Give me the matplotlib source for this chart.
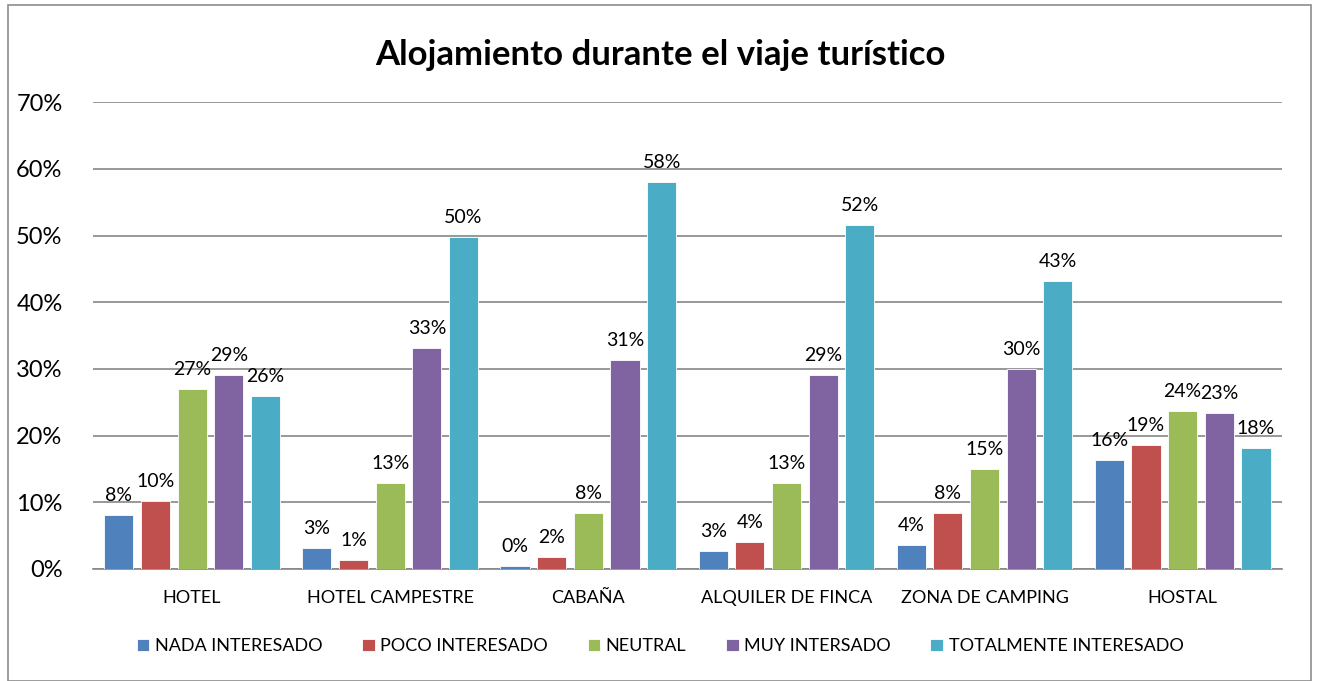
import numpy as np
import matplotlib.pyplot as plt
from matplotlib.patches import Rectangle
from matplotlib.ticker import PercentFormatter

plt.rcParams.update({
    "font.family": ["Lato", "DejaVu Sans"],
})

categories = ["HOTEL", "HOTEL CAMPESTRE", "CABAÑA", "ALQUILER DE FINCA", "ZONA DE CAMPING", "HOSTAL"]
series = ["NADA INTERESADO", "POCO INTERESADO", "NEUTRAL", "MUY INTERSADO", "TOTALMENTE INTERESADO"]

nada = [0.081, 0.031, 0.004, 0.027, 0.036, 0.163]
poco = [0.102, 0.013, 0.018, 0.040, 0.084, 0.186]
neutral = [0.270, 0.129, 0.084, 0.129, 0.150, 0.237]
muy = [0.291, 0.331, 0.313, 0.291, 0.300, 0.234]
totalmente = [0.259, 0.498, 0.580, 0.516, 0.432, 0.181]

colors = ['#4F81BD', '#C0504D', '#9BBB59', '#8064A2', '#4BACC6']

fig = plt.figure(figsize=(13.2, 6.81), dpi=100)
ax = fig.add_axes([0.0705, 0.1645, 0.9005, 0.6855])

# outer chart border
fig.patches.append(Rectangle((0.006, 0.0), 0.987, 0.992, transform=fig.transFigure,
                             fill=False, edgecolor='#8c8c8c', linewidth=1.2))

x = np.arange(len(categories))
pitch = 0.185
width = 0.147
values = [nada, poco, neutral, muy, totalmente]

for i, (vals, name) in enumerate(zip(values, series)):
    pos = x + (i - 2) * pitch
    bars = ax.bar(pos, vals, width, color=colors[i], label=name,
                  edgecolor='white', linewidth=0.6, zorder=3)
    for b, v in zip(bars, vals):
        ax.annotate(f"{v:.0%}", (b.get_x() + b.get_width() / 2, v),
                    xytext=(0, 8), textcoords='offset points',
                    ha='center', va='bottom', fontsize=14)

ax.set_xlim(-0.5, len(categories) - 0.5)
ax.set_ylim(0, 0.7)
ax.set_yticks(np.arange(0, 0.71, 0.1))
ax.yaxis.set_major_formatter(PercentFormatter(1.0, decimals=0))
ax.set_xticks(x)
ax.set_xticklabels(categories)
ax.tick_params(axis='y', length=0, pad=22, labelsize=17)
ax.tick_params(axis='x', length=0, pad=15, labelsize=13)
ax.grid(axis='y', color='#868686', linewidth=1.2, zorder=0)
for s in ['top', 'right', 'left']:
    ax.spines[s].set_visible(False)
ax.spines['bottom'].set_color('#868686')
ax.spines['bottom'].set_linewidth(1.2)

fig.text(0.5, 0.919, "Alojamiento durante el viaje turístico", ha='center', va='center',
         fontsize=25, fontweight='bold')

fig.legend(loc='center', bbox_to_anchor=(0.5, 0.051), ncol=5, frameon=False,
           fontsize=13, handlelength=0.7, handleheight=0.7, handletextpad=0.3,
           columnspacing=2.2)

fig.savefig("out.png", dpi=100)
